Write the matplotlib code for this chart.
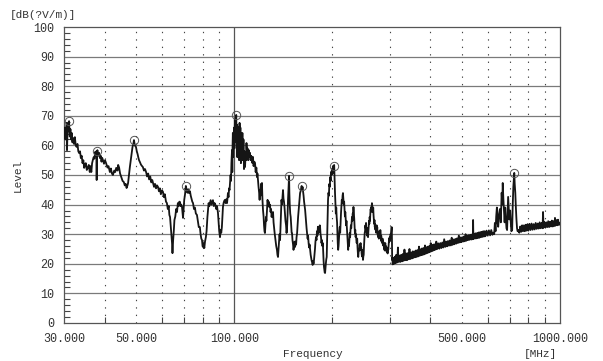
import matplotlib
matplotlib.use("Agg")
import matplotlib.pyplot as plt
from matplotlib.ticker import FixedLocator, NullFormatter

# trace: frequency [MHz] / level [dB(uV/m)]
freq_1 = [30.0, 30.15, 30.3, 30.45, 30.6, 30.65, 30.75, 30.9, 31.1, 31.25, 31.4, 31.55, 31.7, 31.85,
          32.0, 32.2, 32.4, 32.6, 32.8, 33.0, 33.2, 33.4, 33.6, 33.8, 34.0, 34.2, 34.4, 34.6, 34.8,
          35.0, 35.25, 35.5, 35.75, 36.0, 36.2, 36.4, 36.6, 36.8, 37.0, 37.2, 37.4, 37.6, 37.75,
          37.8, 37.85, 38.0, 38.2, 38.45, 38.7, 38.9, 39.1, 39.3, 39.5, 39.8, 40.1, 40.4, 40.8,
          41.1, 41.5, 41.8, 42.1, 42.4, 42.8, 43.1, 43.4, 43.8, 44.0, 44.3, 44.6, 45.0, 45.4, 45.8,
          46.1, 46.4, 46.7, 47.0, 47.2, 47.5, 47.8, 48.1, 48.4, 48.7, 49.0, 49.2, 49.5, 49.9, 50.2,
          50.5, 50.7, 51.0, 51.3]
level_1 = [63, 66, 62, 65.5, 67.6, 58.4, 64, 66, 68.2, 63, 65.5, 62, 64.2, 61,
           62.5, 60.5, 62.8, 60, 59.5, 60.5, 58, 57.4, 58, 55.7, 56.5, 54, 55, 52.4, 53.5,
           54, 51.7, 52.5, 53.4, 51, 53, 51, 54, 55.1, 56, 55.5, 57.8, 57, 58.1,
           48.3, 57, 58.4, 56.5, 57.5, 55.7, 56.5, 54.5, 55.8, 55.1, 53.8, 55, 54, 52.5,
           53, 51, 52.2, 50.5, 50, 51.5, 51, 52.4, 51.5, 53.4, 52.5, 50.5, 49.3, 48, 47.6,
           46.5, 47, 45.6, 46.5, 47.3, 50, 52.7, 55, 57.4, 59.5, 60.5, 61.8, 60, 59.5, 58,
           57, 56.1, 55, 54.4]

freq_2 = [51.7, 52.1, 52.4, 52.8, 53.2, 53.6, 54.0, 54.4, 54.8, 55.2, 55.6, 56.0, 56.3, 56.7,
          57.1, 57.5, 57.9, 58.3, 58.7, 59.1, 59.5, 60.0, 60.4, 60.8, 61.2, 61.7, 62.1, 62.5,
          62.9, 63.2, 63.5, 63.8, 64.1, 64.4, 64.6, 64.9, 65.2, 65.5, 65.9, 66.3, 66.7, 67.1,
          67.5, 67.8, 68.1, 68.4, 68.7, 69.1, 69.4, 69.6, 69.9, 70.2, 70.6, 71.0, 71.4, 71.8,
          72.2, 72.6, 73.1, 73.5, 73.9, 74.3, 74.7, 75.2, 75.7, 76.2, 76.8, 77.3, 77.8, 78.4,
          78.8, 79.2, 79.6, 79.9, 80.1, 80.5, 80.9, 81.3, 81.8, 82.2, 82.4, 82.7, 83.0, 83.4,
          83.8, 84.2, 84.6, 85.1, 85.6, 86.0, 86.5, 87.0, 87.5, 88.0, 88.5, 89.1, 89.5, 89.9,
          90.4, 90.8, 91.2, 91.6, 92.0, 92.3, 92.7, 93.1, 93.6, 94.0, 94.5, 95.0, 95.3, 95.6,
          96.0, 96.4, 96.7, 97.0, 97.4, 97.7, 98.0, 98.4, 98.6, 98.8, 99.0, 99.2, 99.5, 99.8,
          100.1, 100.4, 100.7, 101.0, 101.4]
level_2 = [53.5, 53, 52.7, 51.5, 52, 51, 49.5, 50.5, 48.5, 49.5, 47.5, 48.3, 47.3, 46,
           47, 45.5, 46.5, 46, 44.5, 45.5, 43.5, 44.8, 44.3, 42.5, 43.5, 41, 40.5, 38.5,
           39.5, 36.5, 35.8, 33, 30, 27, 23.6, 28, 31, 34.8, 36, 38.5, 37.5, 40.5,
           39.5, 41, 40.9, 39.5, 40, 39.2, 37, 35.5, 38.5, 41.6, 43.5, 46.3, 45, 44,
           45.2, 43.9, 44.5, 43, 42, 41, 40.5, 38.5, 39, 37, 36.5, 34.5, 32.4, 32.4,
           30, 28.5, 28, 26, 25.7, 27, 25.3, 27.5, 29, 31, 33, 35.8, 38, 40.5,
           39.5, 40.5, 41.5, 40, 40.9, 41.5, 39.5, 40.5, 39.9, 38.5, 39.5, 37.2, 34, 31,
           29, 31.5, 30.5, 32.4, 36, 39.2, 40.5, 41.2, 41.6, 40.5, 41.8, 40.5, 42, 43.9,
           42.5, 45.5, 44.9, 47.3, 50, 48, 54, 58.4, 51, 60, 64.2, 56, 62, 66,
           59, 68.6, 62, 69, 70.3]

freq_3 = [101.6, 101.9, 102.2, 102.6, 102.9, 103.2, 103.5, 103.8, 104.1, 104.4, 104.8, 105.1,
          105.5, 105.9, 106.3, 106.7, 107.1, 107.5, 107.9, 108.3, 108.7, 109.0, 109.4, 109.8,
          110.3, 110.8, 111.3, 111.7, 112.2, 112.7, 113.3, 113.7, 114.1, 114.6, 115.2, 115.8,
          116.3, 116.9, 117.4, 117.8, 118.2, 118.7, 119.2, 119.6, 120.0, 120.4, 120.8, 121.2,
          121.6, 122.0, 122.5, 123.0, 123.4, 123.8, 124.2, 124.6, 125.1, 125.5, 126.0, 126.5,
          127.0, 127.5, 128.0, 128.7, 129.2, 129.7, 130.2, 130.6, 131.0, 131.5, 132.0, 132.5,
          133.0, 133.5, 134.0, 134.5, 135.2, 135.7, 136.2, 136.7, 137.2, 137.7, 138.2, 138.7,
          139.2, 139.6, 140.1, 140.6, 141.1, 141.6, 142.1, 142.6, 143.1, 143.6, 144.2, 144.7,
          145.2, 145.7, 146.2, 146.7, 147.0, 147.3, 147.6, 148.0, 148.5, 149.0, 149.5, 150.0]
level_3 = [61, 67, 56, 66.2, 58, 65, 55, 67.6, 60, 66, 54, 64,
           57, 64.2, 55, 62, 52, 58, 52.7, 57, 55, 60.8, 57, 59,
           55, 58.4, 56, 57.5, 55, 56.5, 55.1, 54, 56.1, 53, 54.5, 54,
           51, 52.5, 49.3, 50.5, 48.3, 46, 44, 41.6, 45, 43, 47, 45,
           47.3, 42, 38.2, 36, 33, 31, 30.4, 33, 35.8, 34.5, 38, 41.6,
           40, 41, 39.2, 40, 37.5, 38.5, 35.8, 37, 36, 37.5, 34, 32,
           30.4, 29, 27.5, 26, 24.7, 23, 22.3, 25, 28, 30, 28, 33,
           37, 41.6, 40, 42.5, 44.9, 42, 41, 39.2, 37, 34.5, 33, 30.4,
           32, 36, 41.6, 45, 47, 49.7, 44, 40, 37, 35.8, 33, 30.5]

freq_4 = [150.4, 150.9, 151.5, 152.0, 152.6, 153.2, 153.7, 154.3, 154.8, 155.3, 155.9, 156.4,
          157.0, 157.6, 158.1, 158.6, 159.2, 159.8, 160.4, 161.0, 161.5, 162.0, 162.6, 163.2,
          163.8, 164.4, 165.0, 165.6, 166.1, 166.7, 167.3, 167.9, 168.5, 169.1, 169.7, 170.3,
          171.0, 171.6, 172.2, 172.8, 173.4, 174.0, 174.5, 175.1, 175.7, 176.3, 176.9, 177.5,
          178.2, 178.8, 179.4, 180.0, 180.6, 181.2, 181.8, 182.4, 183.0, 183.4, 184.0, 184.6,
          185.2, 185.8, 186.4, 187.0, 187.5, 188.0, 188.5, 189.0, 189.5, 190.0, 190.5, 191.0,
          191.6, 192.2, 192.7, 193.3, 194.0, 194.6, 195.2, 195.8, 196.4, 197.0, 197.6, 198.2,
          198.8, 199.4, 199.7, 200.2, 200.8, 201.4, 202.0, 202.6, 203.2, 203.8, 204.4, 205.0,
          205.6, 206.2, 206.8, 207.3, 207.8, 208.4, 209.0, 209.6, 210.2, 210.8, 211.4, 212.0,
          212.6, 213.2, 213.8, 214.4, 215.0, 215.6, 216.2, 216.8, 217.4, 218.0, 218.6, 219.2,
          219.8, 220.4, 221.0, 221.6, 222.2, 222.8, 223.4, 223.7, 224.3, 225.0, 225.6, 226.2,
          226.8, 227.4, 228.0, 228.6, 229.2, 229.8, 230.4, 231.0, 231.6, 232.2, 232.8, 233.4,
          234.0, 234.6, 235.2, 235.8, 236.4, 237.0, 237.6, 238.4, 239.0, 239.6, 240.2, 240.8,
          241.4, 242.0, 242.6, 243.5, 244.2, 244.8, 245.4, 246.0, 246.6, 247.2, 247.8, 248.4,
          249.0, 249.6, 250.2, 250.8, 251.4, 252.0, 252.6, 253.2, 253.8, 254.4, 255.0, 255.6,
          256.2, 256.8, 257.4, 258.0, 258.6, 259.2, 259.8, 260.4, 261.0, 261.6, 262.2, 262.8,
          263.4, 264.0, 264.6, 265.2, 265.8, 266.4, 267.0, 267.6, 268.2, 268.8, 269.4, 270.0,
          270.6, 271.2, 271.8, 272.4, 273.0, 273.6, 274.2, 274.7, 275.3, 275.9, 276.6, 277.2,
          277.8, 278.4, 279.0, 279.6, 280.2, 280.8, 281.4, 282.0, 282.6, 283.2, 283.8, 284.6,
          285.2, 285.8, 286.6, 287.2, 287.8, 288.4, 289.0, 289.6, 290.2, 290.8, 291.4, 292.0,
          292.6, 293.2, 293.8, 294.4, 295.0, 295.6, 296.2, 297.0, 297.6, 298.2, 298.8, 299.4,
          300.0, 300.6, 301.2, 301.8, 302.4, 303.0, 303.6, 304.2, 304.7, 305.0, 305.3]
level_4 = [30.4, 28, 26.5, 24.7, 26, 27.5, 25.7, 27.5, 26.5, 29, 30.4, 33,
           35.8, 38, 40, 41.5, 43.9, 44.5, 45.5, 46.3, 45, 46, 44.5, 43,
           41, 39.5, 38.2, 36, 34, 32, 30.4, 28.5, 29.5, 27, 25.5, 26.5,
           24.7, 23, 22, 21, 20.5, 19.6, 21, 20, 21.3, 23, 25, 27.5,
           29, 28, 31, 29.5, 32.5, 30.4, 31.5, 31, 33, 32.4, 30, 29,
           27, 28, 26, 27, 24, 21, 19, 18, 17, 16.9, 18.5, 20,
           21.5, 22.3, 28, 35, 41.6, 44, 43, 47, 46, 49.3, 48, 51,
           50, 52, 51.7, 50.5, 53, 51.5, 52.5, 53.4, 48, 44, 40, 37,
           39, 35.8, 34, 30, 27, 24.7, 26, 28.5, 31, 32.4, 30.5, 34,
           37, 39.5, 41.6, 40.5, 43, 43.9, 42, 40, 41, 38.2, 36, 37.5,
           35, 33, 34.5, 32.4, 30, 28, 26.5, 24.7, 27, 26, 28.5, 30.4,
           29, 31.5, 33, 32, 34, 35.8, 34.5, 37, 36, 39.2, 37, 35.5,
           33, 30.4, 31.5, 29, 30, 28, 27, 28.5, 25.5, 23.5, 22.3, 24,
           25, 24.5, 26.5, 25.7, 27, 24.7, 25.5, 23.5, 22.5, 24.7, 23, 21.3,
           22.5, 23, 26, 28, 30.4, 31, 33, 32, 33.8, 31.5, 30.5, 29.5,
           32, 30, 29, 31, 33, 34.5, 33.5, 35.8, 34.5, 37, 38.5, 37.5,
           39.2, 38.5, 40.5, 39.5, 38, 37.5, 39, 36.5, 35, 33.5, 34.8, 32.4,
           33.5, 31.5, 32.4, 30.5, 31.4, 33, 31, 32.4, 30, 29.5, 29, 30.5,
           28.5, 31, 29.5, 30.5, 29, 31.4, 29.5, 28, 29.5, 27.5, 28, 27,
           28.5, 26.5, 27.5, 26, 27, 25, 26.5, 24.5, 25.7, 27, 25, 26,
           24.5, 25.5, 24, 25.5, 24.7, 23.5, 25, 24.7, 26, 27.5, 28.5, 27.5,
           29, 28, 29, 30, 29.5, 30.4, 31.5, 32.4, 30, 25, 21.3]

freq_5 = [305.8, 306.4, 308, 309.5, 311, 312.5, 314, 315.5, 317, 318, 319, 321, 323, 325, 327,
          329, 331, 333, 335, 337, 339, 341, 343, 345, 347, 349, 351, 353, 355, 357, 359, 361,
          363, 365, 367, 369, 371, 373, 375, 377, 379, 381, 383, 385, 387, 389, 391, 393, 395,
          397, 399, 401, 403, 405, 407, 409, 411, 413, 415, 417, 420, 423, 426, 429, 432, 435,
          438, 441, 444, 447, 450, 453, 456, 459, 462, 465, 468, 471, 474, 477, 480, 483, 486,
          489, 492, 495, 498, 501, 504, 507, 510, 513, 516, 519, 522, 525, 528, 531, 535, 538,
          540, 541, 542, 545, 548, 551, 554, 557, 560, 563, 566, 569, 572, 575, 578, 581, 584,
          587, 590, 595, 600, 605, 610, 615, 620]
level_5 = [22, 19.8, 22, 20, 22.4, 20.2, 23, 20.4, 22.5, 25.5, 20.6, 22.8, 20.6, 23, 20.8,
           23.3, 21, 24.8, 21.2, 23.5, 21.2, 23.6, 21.5, 25, 21.6, 23.8, 21.8, 24.2, 22, 24.2, 22.2, 24.5,
           22.3, 24.6, 22.5, 25.8, 22.7, 24.9, 22.9, 25.2, 23, 25.3, 23.2, 26.2, 23.4, 25.6, 23.6, 25.8, 23.8,
           26, 24, 27, 24.2, 26.3, 24.4, 26.5, 24.6, 26.6, 24.8, 27.5, 25, 26.9, 25.1, 27, 25.3, 27.2,
           25.5, 28.3, 25.7, 27.5, 25.9, 27.7, 26.1, 27.9, 26.2, 28.8, 26.4, 28.2, 26.6, 28.4, 26.8, 28.6, 27,
           29.5, 27.2, 28.9, 27.3, 29, 27.5, 29.2, 27.6, 30, 27.8, 29.5, 28, 29.7, 28.1, 29.8, 28.2, 30,
           28.3, 34.8, 28.4, 30.2, 28.5, 30.3, 28.6, 30.4, 28.7, 30.6, 28.8, 30.7, 29, 30.8, 29.1, 31, 29.2,
           31, 29.3, 31.2, 29.5, 31.3, 29.6, 31.4, 29.8]

freq_6 = [624, 628, 631, 634, 637, 640, 643, 646, 650, 654, 658, 662, 665, 667, 670, 673, 676,
          679, 682, 685, 688, 690, 693, 696, 699, 703, 706, 709, 713, 716, 719, 721, 723.7, 726,
          729, 732, 735, 738, 741, 745, 750, 755, 760, 765, 770, 775, 780, 785, 790, 795, 800,
          806, 812, 818, 824, 830, 836, 842, 848, 854, 860, 866, 872, 878, 884, 887, 890, 896,
          902, 908, 914, 920, 926, 932, 938, 944, 950, 956, 962, 965, 968, 974, 980, 986, 992,
          1000]
level_6 = [30.5, 30, 33.8, 31, 36, 39, 34, 32.5, 37, 38.5, 34, 44, 40, 47.3, 42, 38, 34,
           39, 35, 32, 31.4, 36, 42.6, 39, 35, 38, 34, 31, 31.4, 40, 46, 48, 50.7, 47,
           44, 39, 35, 32, 31, 31.4, 30.5, 32.6, 30.8, 33, 31, 33, 31, 33.2, 31.2, 33.4, 31.2,
           33.5, 31.4, 33.6, 31.5, 33.4, 31.6, 33.8, 31.8, 33.6, 31.9, 34, 32, 33.8, 32, 37.5, 32.2, 34.1,
           32.2, 34, 32.4, 34.4, 32.4, 34.2, 32.6, 34.6, 32.6, 34.4, 32.8, 35.5, 32.9, 34.8, 33, 34.9, 33.1,
           33.8]

# peak markers
marker_freq = [31.1, 37.8, 49.2, 71.0, 101.4, 147.3, 161.0, 202.6, 723.7]
marker_level = [68.2, 58.1, 61.8, 46.3, 70.3, 49.7, 46.3, 53.0, 50.7]

x_labels = [30, 50, 100, 500, 1000]
x_minor = [40, 50, 60, 70, 80, 90, 200, 300, 400, 500, 600, 700, 800, 900]

trace_freq = freq_1 + freq_2 + freq_3 + freq_4 + freq_5 + freq_6
trace_level = level_1 + level_2 + level_3 + level_4 + level_5 + level_6

mono = "Liberation Mono"
txt = "#333333"
grid = "#7a7a7a"

fig = plt.figure(figsize=(6.03, 3.61), dpi=100)
ax = fig.add_axes([0.1061, 0.1053, 0.8226, 0.8199])

ax.set_xscale("log")
ax.set_xlim(30, 1000)
ax.set_ylim(0, 100)

# grid
for y in range(10, 100, 10):
    ax.axhline(y, color=grid, lw=0.9, zorder=1)
for f in x_minor:
    ax.axvline(f, color="#444444", lw=0.8, linestyle=(0, (1.2, 5.5)), zorder=1)
ax.axvline(100, color="#555555", lw=0.9, zorder=1)

ax.plot(trace_freq, trace_level, color="#151515", lw=1.3, zorder=3)
ax.plot(marker_freq, marker_level, "o", ms=6, mfc="none", mec="#555555", mew=0.7, zorder=4)

# ticks
ax.xaxis.set_major_locator(FixedLocator(x_labels))
ax.xaxis.set_minor_locator(FixedLocator(x_minor))
ax.xaxis.set_minor_formatter(NullFormatter())
ax.set_xticklabels(["%.3f" % v for v in x_labels])
ax.set_yticks(range(0, 101, 10))
ax.set_yticks(range(0, 101, 2), minor=True)
ax.tick_params(axis="both", which="major", length=0, labelsize=8.5, labelcolor=txt, pad=7)
ax.tick_params(axis="x", which="minor", direction="in", length=4, width=0.8, color="#444444")
ax.tick_params(axis="y", which="minor", direction="in", length=4, width=0.8, color="#444444")
for lab in ax.get_xticklabels() + ax.get_yticklabels():
    lab.set_fontfamily(mono)

for s in ax.spines.values():
    s.set_color("#555555")
    s.set_linewidth(0.9)

fig.text(10 / 603, 1 - 15 / 361, "[dB(?V/m)]", family=mono, fontsize=8, color=txt, va="center", ha="left")
fig.text(18 / 603, 1 - 175 / 361, "Level", family=mono, fontsize=8, color=txt, rotation=90,
         va="center", ha="center")
fig.text(313 / 603, 1 - 354 / 361, "Frequency", family=mono, fontsize=8, color=txt, va="center", ha="center")
fig.text(540 / 603, 1 - 354 / 361, "[MHz]", family=mono, fontsize=8, color=txt, va="center", ha="center")

fig.savefig("out.png", dpi=100)
